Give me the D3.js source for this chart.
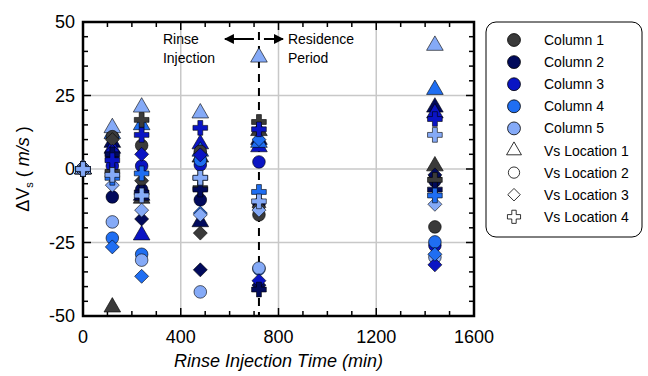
<!DOCTYPE html>
<html>
<head>
<meta charset="utf-8">
<script src="https://cdn.jsdelivr.net/npm/d3@7"></script>
<style>
  html, body { margin: 0; padding: 0; background: #fff; }
  svg text { font-family: "Liberation Sans", Arial, sans-serif; }
</style>
</head>
<body>
<div id="chart"></div>
<script>
// sampling times (min)
const times = [0, 120, 240, 480, 720, 1440];

const columns = ['Column 1', 'Column 2', 'Column 3', 'Column 4', 'Column 5'];
const columnColors = ['#3a3a3a', '#010a5c', '#0a14c4', '#1f6ef2', '#85aaf7'];
const locations = ['Vs Location 1', 'Vs Location 2', 'Vs Location 3', 'Vs Location 4'];

// ΔVs per column, one array per Vs location, values at each time
const loc1 = [
  [0, -47, -10, 4, 13, 1],
  [0, 9, -9, -18, 10, 21],
  [0, 7, -22.5, 8.5, 7.5, 19],
  [0, 12, 15, 6, 9, 27],
  [0, 14, 21, 19, 38, 42]
];
const loc2 = [
  [0, 11, 8, 6, -15.6, -19.7],
  [0, -9.5, -7, -10.5, -12, -4],
  [0, 1, 1, 1.4, 2.4, -26],
  [0, -23.5, -29, 3, -34, -24.8],
  [0, -18, -31, -41.8, -33.7, -30]
];
const loc3 = [
  [0, 10, -4, -21.8, -13, -3],
  [0, 4, -17, -34.3, -39.5, -2],
  [0, 6, 5, 4.8, -38, -32.6],
  [0, -26.5, -36.5, -15, 10, -29],
  [0, -5.5, -14, -15.6, -14, -12]
];
const loc4 = [
  [0, -1, 16.7, -6.5, 16, -3.7],
  [0, 5, -8, -7, -41, -7],
  [0, 3, 11.6, 14, 13.5, 17],
  [0, -3, -1.5, -3, -7.8, -9],
  [0, -2, -9, -3, -11, 11.6]
];

const xTicks = [0, 400, 800, 1200, 1600];
const yTicks = [-50, -25, 0, 25, 50];
const rinseEnd = 720;

const W = 648, H = 376;
const margin = { top: 22, right: 174, bottom: 60, left: 83 };
const pw = W - margin.left - margin.right;
const ph = H - margin.top - margin.bottom;

const svg = d3.select('#chart').append('svg')
  .attr('width', W).attr('height', H);

const g = svg.append('g').attr('transform', `translate(${margin.left},${margin.top})`);

const x = d3.scaleLinear().domain([0, 1600]).range([0, pw]);
const y = d3.scaleLinear().domain([-50, 50]).range([ph, 0]);

// grid
g.append('g').selectAll('line').data([400, 800, 1200]).enter().append('line')
  .attr('x1', d => x(d)).attr('x2', d => x(d)).attr('y1', 0).attr('y2', ph)
  .attr('stroke', '#c8c8c8').attr('stroke-width', 1.5);
g.append('g').selectAll('line').data([-25, 0, 25]).enter().append('line')
  .attr('y1', d => y(d)).attr('y2', d => y(d)).attr('x1', 0).attr('x2', pw)
  .attr('stroke', '#c8c8c8').attr('stroke-width', 1.5);

// dashed separator between rinse and residence
g.append('line')
  .attr('x1', x(rinseEnd)).attr('x2', x(rinseEnd)).attr('y1', 10).attr('y2', ph)
  .attr('stroke', '#000').attr('stroke-width', 2).attr('stroke-dasharray', '8,6');

// arrows
const defs = svg.append('defs');
defs.append('marker').attr('id', 'arr').attr('viewBox', '0 0 10 10')
  .attr('refX', 9).attr('refY', 5).attr('markerWidth', 5).attr('markerHeight', 5)
  .attr('orient', 'auto-start-reverse')
  .append('path').attr('d', 'M0,0L10,5L0,10z').attr('fill', '#000');
const ay = 17;
g.append('line').attr('x1', x(rinseEnd) - 5).attr('x2', x(rinseEnd) - 34)
  .attr('y1', ay).attr('y2', ay).attr('stroke', '#000').attr('stroke-width', 2)
  .attr('marker-end', 'url(#arr)');
g.append('line').attr('x1', x(rinseEnd) + 5).attr('x2', x(rinseEnd) + 24)
  .attr('y1', ay).attr('y2', ay).attr('stroke', '#000').attr('stroke-width', 2)
  .attr('marker-end', 'url(#arr)');

const annot = g.append('g').attr('font-size', 14).attr('fill', '#000');
annot.append('text').attr('x', x(rinseEnd) - 96).attr('y', 22).text('Rinse');
annot.append('text').attr('x', x(rinseEnd) - 96).attr('y', 41).text('Injection');
annot.append('text').attr('x', x(rinseEnd) + 29).attr('y', 22).text('Residence');
annot.append('text').attr('x', x(rinseEnd) + 29).attr('y', 41).text('Period');

// ticks (inward on all four sides)
const tk = g.append('g').attr('stroke', '#000').attr('stroke-width', 1.5);
const xMinor = d3.range(0, 1601, 100);
const yMinor = d3.range(-50, 51, 5);
xMinor.forEach(v => {
  const len = v % 400 === 0 ? 8 : 5;
  tk.append('line').attr('x1', x(v)).attr('x2', x(v)).attr('y1', ph).attr('y2', ph - len);
  tk.append('line').attr('x1', x(v)).attr('x2', x(v)).attr('y1', 0).attr('y2', len);
});
yMinor.forEach(v => {
  const len = v % 25 === 0 ? 8 : 5;
  tk.append('line').attr('y1', y(v)).attr('y2', y(v)).attr('x1', 0).attr('x2', len);
  tk.append('line').attr('y1', y(v)).attr('y2', y(v)).attr('x1', pw).attr('x2', pw - len);
});

// frame
g.append('rect').attr('x', 0).attr('y', 0).attr('width', pw).attr('height', ph)
  .attr('fill', 'none').attr('stroke', '#000').attr('stroke-width', 2.5);

// tick labels
g.append('g').selectAll('text').data(xTicks).enter().append('text')
  .attr('x', d => x(d)).attr('y', ph + 27).attr('text-anchor', 'middle')
  .attr('font-size', 18).text(d => d);
g.append('g').selectAll('text').data(yTicks).enter().append('text')
  .attr('x', -8).attr('y', d => y(d) + 6).attr('text-anchor', 'end')
  .attr('font-size', 18).text(d => d);

// axis titles
g.append('text').attr('x', pw / 2).attr('y', ph + 51).attr('text-anchor', 'middle')
  .attr('font-size', 18).attr('font-style', 'italic').text('Rinse Injection Time (min)');
const yl = svg.append('text')
  .attr('transform', `translate(29,${margin.top + ph / 2}) rotate(-90)`)
  .attr('text-anchor', 'middle').attr('font-size', 18);
yl.append('tspan').text('ΔV');
yl.append('tspan').attr('font-size', 11).attr('dy', 4).text('s');
yl.append('tspan').attr('dy', -4).text(' ( ');
yl.append('tspan').attr('font-style', 'italic').text('m/s');
yl.append('tspan').text(' )');

// markers
const shapes = [d3.symbolTriangle, d3.symbolCircle, d3.symbolDiamond2, d3.symbolCross];
const sizes = [120, 125, 125, 120];
const byLoc = [loc1, loc2, loc3, loc4];

const pts = [];
byLoc.forEach((loc, li) => {
  loc.forEach((vals, ci) => {
    vals.forEach((v, ti) => pts.push({ t: times[ti], v, li, ci }));
  });
});

g.append('g').selectAll('path').data(pts).enter().append('path')
  .attr('transform', d => `translate(${x(d.t)},${y(d.v)})`)
  .attr('d', d => d3.symbol().type(shapes[d.li]).size(sizes[d.li])())
  .attr('fill', d => columnColors[d.ci])
  .attr('stroke', '#000').attr('stroke-width', 0.6);

// legend
const lg = svg.append('g').attr('transform', 'translate(486,22)');
lg.append('rect').attr('x', 0).attr('y', 0).attr('width', 156).attr('height', 215)
  .attr('rx', 10).attr('fill', '#fff').attr('stroke', '#000').attr('stroke-width', 1);
const items = columns.map((c, i) => ({ label: c, shape: d3.symbolCircle, size: 130, fill: columnColors[i] }))
  .concat(locations.map((l, i) => ({ label: l, shape: shapes[i], size: sizes[i] * 0.8, fill: '#fff' })));
const li = lg.selectAll('g.item').data(items).enter().append('g')
  .attr('transform', (d, i) => `translate(0,${18 + i * 22.1})`);
li.append('path').attr('transform', 'translate(28,0)')
  .attr('d', d => d3.symbol().type(d.shape).size(d.size)())
  .attr('fill', d => d.fill).attr('stroke', '#000').attr('stroke-width', 0.8);
li.append('text').attr('x', 58).attr('y', 5).attr('font-size', 14).text(d => d.label);
</script>
</body>
</html>
